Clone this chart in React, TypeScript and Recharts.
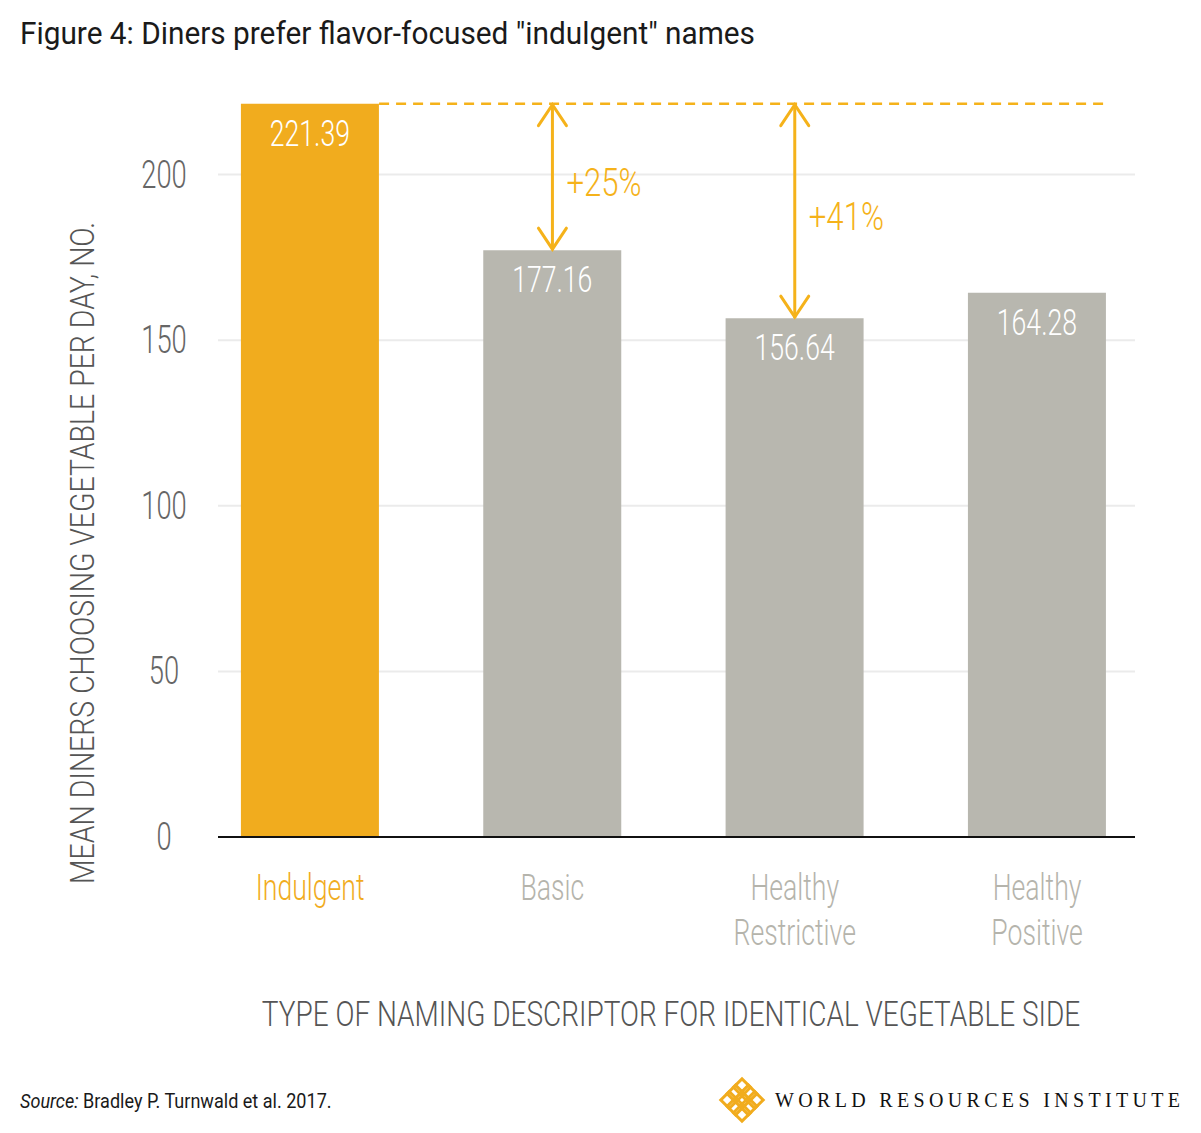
import React from 'react';
import { BarChart, Bar, XAxis, YAxis, CartesianGrid, ReferenceLine, LabelList, Cell } from 'recharts';

const categories = [['Indulgent'], ['Basic'], ['Healthy', 'Restrictive'], ['Healthy', 'Positive']];
const values = [221.39, 177.16, 156.64, 164.28];
const yTicks = [0, 50, 100, 150, 200];
const arrows = [
  { target: 1, label: '+25%' },
  { target: 2, label: '+41%' },
];

const ORANGE = '#F1AC1E';
const ARROW = '#F5B21A';
const GREY_BAR = '#B8B7AF';
const FONT = "Roboto, 'Liberation Sans', sans-serif";
const SX = 0.72; // squeeze to mimic the condensed face

const W = 1201;
const H = 1133;
const M = { top: 100, right: 66, bottom: 196, left: 0 };
const Y_AXIS_W = 218;
const X_AXIS_H = 100;
const X_DOMAIN: [number, number] = [-0.38, 3.404];
const BAR_SIZE = 138;
const plotW = W - M.left - M.right - Y_AXIS_W;
const unitPx = plotW / (X_DOMAIN[1] - X_DOMAIN[0]);
const barHalf = BAR_SIZE / 2 / unitPx;

const data = values.map((v, i) => ({ idx: i, value: v }));

const CText = ({ x, y, sx = SX, anchor = 'start', children, ...rest }: any) => (
  <text transform={`translate(${x},${y}) scale(${sx},1)`} textAnchor={anchor} fontFamily={FONT} {...rest}>
    {children}
  </text>
);

const XTick = (props: any) => {
  const { x, y, payload } = props;
  const lines = categories[payload.value] || [];
  const color = payload.value === 0 ? ORANGE : '#B5B4AC';
  return (
    <CText x={x} y={y + 63} anchor="middle" fill={color} fontSize={37} fontWeight={300}>
      {lines.map((l, i) => (
        <tspan key={i} x={0} dy={i === 0 ? 0 : 45}>{l}</tspan>
      ))}
    </CText>
  );
};

const YTick = (props: any) => {
  const { x, y, payload } = props;
  return (
    <CText x={x - 54} y={y + 13} anchor="middle" fill="#666" fontSize={38} fontWeight={300}>
      {payload.value}
    </CText>
  );
};

const BarValue = (props: any) => {
  const { x, y, width, value } = props;
  return (
    <CText x={x + width / 2} y={y + 42} anchor="middle" fill="#fff" fontSize={37} fontWeight={300}>
      {Number(value).toFixed(2)}
    </CText>
  );
};

const arrowShape = (label: string) => (p: any) => {
  const { x1, y1, y2 } = p;
  const top = Math.min(y1, y2);
  const bot = Math.max(y1, y2);
  const hw = 14;
  const hl = 22;
  return (
    <g>
      <line x1={x1} y1={top} x2={x1} y2={bot} stroke={ARROW} strokeWidth={3} />
      <polyline points={`${x1 - hw},${top + hl} ${x1},${top + 1} ${x1 + hw},${top + hl}`} fill="none" stroke={ARROW} strokeWidth={3} strokeLinecap="round" />
      <polyline points={`${x1 - hw},${bot - hl} ${x1},${bot - 1} ${x1 + hw},${bot - hl}`} fill="none" stroke={ARROW} strokeWidth={3} strokeLinecap="round" />
      <CText x={x1 + 14} y={(top + bot) / 2 + 19} sx={0.82} fill={ARROW} fontSize={38} fontWeight={300}>{label}</CText>
    </g>
  );
};

const Logo = ({ cx, cy }: { cx: number; cy: number }) => {
  const offs = [-9, 0, 9];
  return (
    <g transform={`translate(${cx},${cy}) rotate(45)`}>
      {offs.map((a) => offs.map((b) => (
        <rect key={`${a}-${b}`} x={a - 6} y={b - 6} width={12} height={12} fill="none" stroke={ORANGE} strokeWidth={3} />
      )))}
    </g>
  );
};

export default function App() {
  return (
    <div style={{ position: 'absolute', left: 0, top: 0, width: W, height: H, background: '#fff' }}>
      <BarChart width={W} height={H} data={data} margin={M}>
        <CartesianGrid vertical={false} horizontalValues={yTicks.slice(1)} stroke="#EBEBEB" strokeWidth={2} />
        <XAxis
          type="number"
          dataKey="idx"
          domain={X_DOMAIN}
          allowDataOverflow
          ticks={[0, 1, 2, 3]}
          interval={0}
          height={X_AXIS_H}
          axisLine={{ stroke: '#111', strokeWidth: 2 }}
          tickLine={false}
          tickSize={0}
          tickMargin={0}
          tick={<XTick />}
        />
        <YAxis
          width={Y_AXIS_W}
          domain={[0, 222.5]}
          allowDataOverflow
          ticks={yTicks}
          interval={0}
          axisLine={false}
          tickLine={false}
          tickSize={0}
          tickMargin={0}
          tick={<YTick />}
        />
        <Bar dataKey="value" barSize={BAR_SIZE} isAnimationActive={false}>
          {data.map((d) => (
            <Cell key={d.idx} fill={d.idx === 0 ? ORANGE : GREY_BAR} />
          ))}
          <LabelList dataKey="value" content={<BarValue />} />
        </Bar>
        <ReferenceLine
          segment={[{ x: barHalf, y: values[0] }, { x: 3 + barHalf, y: values[0] }]}
          stroke={ARROW}
          strokeWidth={2.5}
          strokeDasharray="10 7"
        />
        {arrows.map((a) => (
          <ReferenceLine
            key={a.label}
            segment={[{ x: a.target, y: values[0] }, { x: a.target, y: values[a.target] }]}
            shape={arrowShape(a.label)}
          />
        ))}
      </BarChart>
      <svg width={W} height={H} style={{ position: 'absolute', left: 0, top: 0, pointerEvents: 'none' }}>
        <text x={20} y={44} fontSize={31} fill="#1a1a1a" fontFamily={FONT} textLength={735} lengthAdjust="spacingAndGlyphs">
          Figure 4: Diners prefer flavor-focused "indulgent" names
        </text>
        <text
          transform="translate(94,553) rotate(-90)"
          textAnchor="middle"
          fontSize={34}
          fill="#555"
          fontFamily={FONT}
          fontWeight={300}
          textLength={662}
          lengthAdjust="spacingAndGlyphs"
        >
          MEAN DINERS CHOOSING VEGETABLE PER DAY, NO.
        </text>
        <CText x={671} y={1026} sx={0.8} anchor="middle" fontSize={35} fill="#555" fontWeight={300}>
          TYPE OF NAMING DESCRIPTOR FOR IDENTICAL VEGETABLE SIDE
        </CText>
        <CText x={20} y={1108} sx={0.86} fontSize={21} fill="#1a1a1a">
          <tspan fontStyle="italic">Source:</tspan> Bradley P. Turnwald et al. 2017.
        </CText>
        <Logo cx={742} cy={1100} />
        <text x={775} y={1107} fontSize={20} fill="#111" fontFamily="'Liberation Serif', 'DejaVu Serif', serif" textLength={405} lengthAdjust="spacing">
          WORLD RESOURCES INSTITUTE
        </text>
      </svg>
    </div>
  );
}
